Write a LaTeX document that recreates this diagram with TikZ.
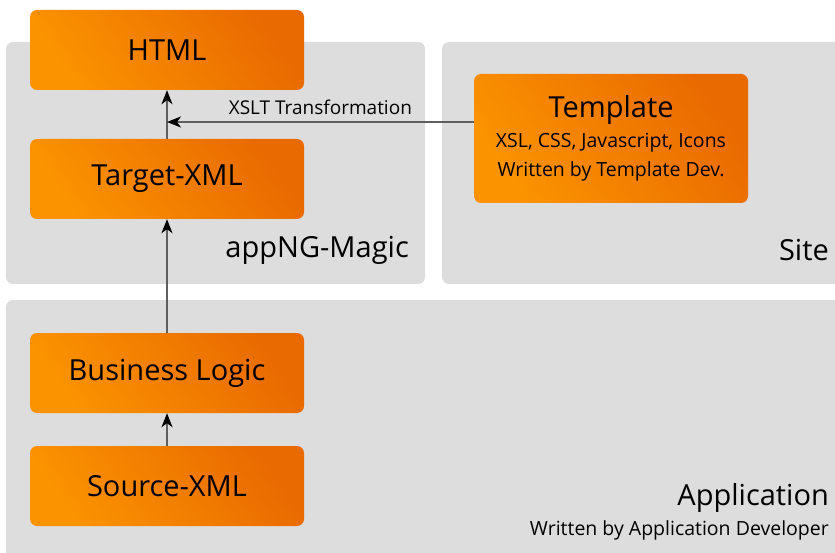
\documentclass[tikz,border=0pt]{standalone}
\usepackage{fontspec}
\setmainfont{Open Sans}
\usetikzlibrary{arrows.meta}
\definecolor{panelgray}{RGB}{221,221,221}
\definecolor{orA}{RGB}{251,147,0}
\definecolor{orB}{RGB}{233,106,0}
\definecolor{linegray}{RGB}{95,95,95}
\tikzset{
  panel/.style={fill=panelgray, draw=none, rounded corners=7pt},
  obox/.style={draw=none, rounded corners=7pt, minimum width=274pt, minimum height=80pt,
    shading=axis, bottom color=orA, top color=orB, shading angle=-55, text=black, inner sep=0pt,
    font=\fontsize{29}{32}\selectfont, align=center},
  arr/.style={draw=linegray, line width=1.8pt, -{Stealth[length=14pt,width=11pt,inset=4pt,color=black]}},
  lbl/.style={inner sep=0pt, text=black}
}
\begin{document}
\begin{tikzpicture}[x=1pt,y=-1pt]
\useasboundingbox (0,0) rectangle (835,553);
\clip (0,0) rectangle (835,553);
\fill[white] (0,0) rectangle (835,553);
% panels
\path[panel] (6,42) rectangle (425,284);
\path[panel] (442,42) rectangle (850,284);
\path[panel] (6,300) rectangle (850,570);
% boxes
\node[obox] (html) at (167,50) {HTML};
\node[obox] (target) at (167,179) {Target-XML};
\node[obox, minimum height=129pt] (tmpl) at (611,138.5) {};
\node[lbl, font=\fontsize{29}{32}\selectfont] (tmplT) at (611,110) {Template};
\node[lbl, font=\fontsize{19.5}{22}\selectfont] (tmplA) at (611,143) {XSL, CSS, Javascript, Icons};
\node[lbl, font=\fontsize{19.5}{22}\selectfont] (tmplB) at (611,171) {Written by Template Dev.};
\node[obox] (biz) at (167,373) {Business Logic};
\node[obox] (src) at (167,486) {Source-XML};
% labels
\node[lbl, anchor=east, font=\fontsize{29}{32}\selectfont] (magic) at (409,250) {appNG-Magic};
\node[lbl, anchor=east, font=\fontsize{29}{32}\selectfont] (site) at (829,250) {Site};
\node[lbl, anchor=east, font=\fontsize{29}{32}\selectfont] (app) at (829,498) {Application};
\node[lbl, anchor=east, font=\fontsize{19.5}{22}\selectfont] (appdev) at (829,530) {Written by Application Developer};
% connectors
\coordinate (xj) at (167,122);
\draw[arr] (target.north) -- (html.south);
\draw[arr] (tmpl.west |- xj) -- node[above=6pt, lbl, font=\fontsize{19}{22}\selectfont] (xslt) {XSLT Transformation} (xj);
\draw[arr] (biz.north) -- (target.south);
\draw[arr] (src.north) -- (biz.south);
\end{tikzpicture}
\end{document}
